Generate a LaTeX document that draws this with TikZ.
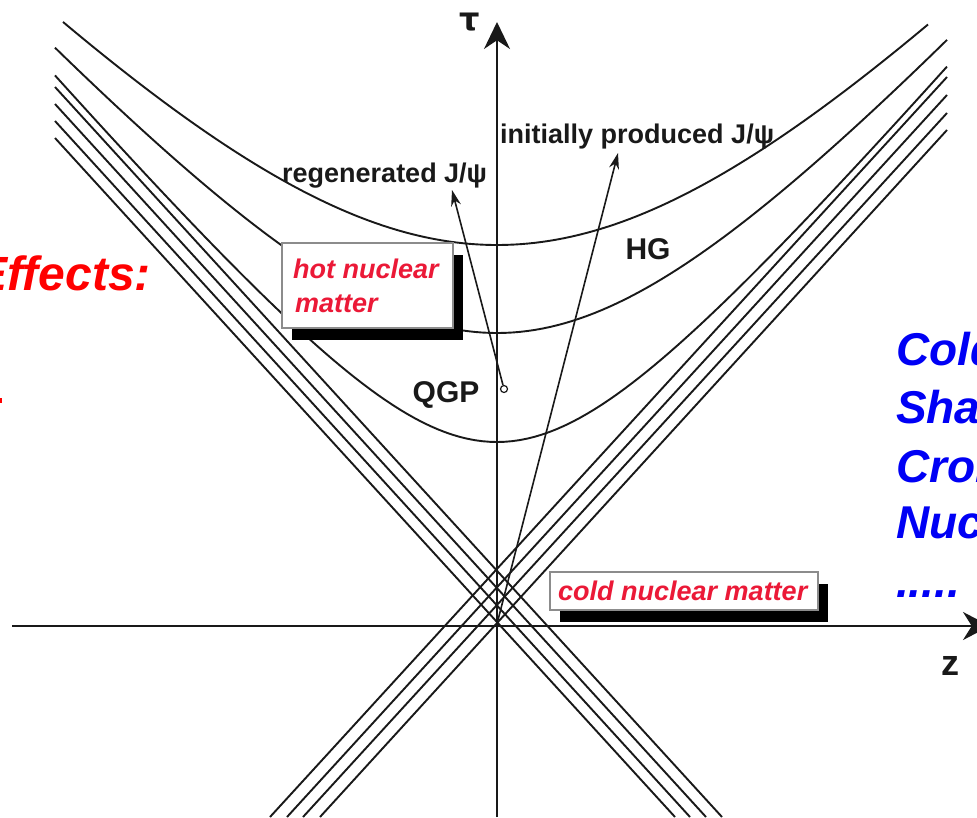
\documentclass[tikz,border=0pt]{standalone}
\usepackage{fontspec}
\setmainfont{Liberation Sans}
\newfontfamily\dejavu{DejaVu Sans}
\usetikzlibrary{arrows.meta,shadows}
\definecolor{effred}{RGB}{255,0,0}
\definecolor{boxred}{RGB}{235,25,55}
\definecolor{effblue}{RGB}{0,0,245}
\definecolor{ink}{RGB}{25,25,25}
\begin{document}
\begin{tikzpicture}[x=1pt,y=-1pt,
  wl/.style={draw=ink,line width=1.9pt},
  axisline/.style={draw=ink,line width=2pt},
  jarrow/.style={draw=ink,line width=1.6pt,-{Stealth[length=16pt,width=10pt]}},
  nbox/.style={draw=black!45,line width=1.2pt,fill=white,inner sep=0pt,
     drop shadow={shadow xshift=10pt,shadow yshift=-12pt,opacity=1,fill=black}},
  boxtext/.style={text=boxred,font=\fontsize{27}{30}\selectfont\bfseries\itshape,inner sep=0pt},
  lab/.style={text=ink,font=\fontsize{27}{30}\selectfont\bfseries,inner sep=0pt},
  biglab/.style={text=ink,font=\fontsize{30}{34}\selectfont\bfseries,inner sep=0pt},
  redtext/.style={text=effred,font=\fontsize{48}{52}\selectfont\bfseries\itshape,inner sep=0pt},
  bluetext/.style={text=effblue,font=\fontsize{46}{50}\selectfont\bfseries\itshape,inner sep=0pt}
]
\useasboundingbox (0,0) rectangle (977,817);
\fill[white] (0,0) rectangle (977,817);

% hyperbolas (proper-time curves), centred on tau axis x=497, origin y=626
\draw[wl] plot[domain=-434:431,samples=120] ({497+\x},{626-100*sqrt(3.81*3.81+(1.08*\x/100)*(1.08*\x/100))});
\draw[wl] plot[domain=-442:450,samples=120] ({497+\x},{626-100*sqrt(2.93*2.93+(1.128*\x/100)*(1.128*\x/100))});
\draw[wl] plot[domain=-442:450,samples=120] ({497+\x},{626-100*sqrt(1.84*1.84+(1.174*\x/100)*(1.174*\x/100))});

% light-cone lines
\coordinate (l1a) at (55,87);  \coordinate (l1b) at (722,817);
\coordinate (l2a) at (55,104); \coordinate (l2b) at (706,817);
\coordinate (l3a) at (55,121); \coordinate (l3b) at (690,817);
\coordinate (l4a) at (55,138); \coordinate (l4b) at (675,817);
\coordinate (r1a) at (947,77);  \coordinate (r1b) at (270,817);
\coordinate (r2a) at (947,95);  \coordinate (r2b) at (287,817);
\coordinate (r3a) at (947,113); \coordinate (r3b) at (303,817);
\coordinate (r4a) at (947,130); \coordinate (r4b) at (320,817);
\foreach \n in {l1,l2,l3,l4,r1,r2,r3,r4} \draw[wl] (\n a) -- (\n b);

% axes
\coordinate (tbot) at (497,817);
\coordinate (ttop) at (497,22);
\coordinate (zleft) at (12,626);
\coordinate (zright) at (990,626);
\draw[axisline,-{Stealth[length=27pt,width=26pt]}] (tbot) -- (ttop);
\draw[axisline,-{Stealth[length=27pt,width=28pt]}] (zleft) -- (zright);
\node[font=\dejavu\bfseries\fontsize{32}{34}\selectfont,text=ink,inner sep=0pt] (tau) at (470,22) {τ};
\node[font=\fontsize{36}{40}\selectfont\bfseries,text=ink,inner sep=0pt] (zlab) at (950,666) {z};

% J/psi trajectories
\node[draw=ink,line width=1.2pt,circle,minimum size=7pt,inner sep=0pt,fill=white] (circ) at (504,389) {};
\coordinate (regtip) at (452,190);
\draw[jarrow] (circ) -- (regtip);
\coordinate (ip0) at (498,620);
\coordinate (iptip) at (618,153);
\draw[jarrow] (ip0) -- (iptip);

% boxes
\node[nbox,minimum width=171pt,minimum height=85pt] (hotbox) at (367.5,285.5) {};
\node[boxtext,anchor=base west] (hot1) at (293,278) {hot nuclear};
\node[boxtext,anchor=base west] (hot2) at (295,312) {matter};
\node[nbox,minimum width=268pt,minimum height=38pt] (coldbox) at (684,591) {};
\node[boxtext,anchor=base west] (cold) at (558,600) {cold nuclear matter};

% labels
\node[lab,anchor=base west] (reg) at (282,182) {regenerated J/ψ};
\node[lab,anchor=base west] (ini) at (500,143) {initially produced J/ψ};
\node[biglab] (hg) at (648,249) {HG};
\node[biglab] (qgp) at (446,395) {QGP};

% side texts (cropped by the page, as in the reference)
\node[redtext,anchor=base east] (eff) at (151,290) {Effects:};
\fill[effred] (0,398) rectangle (2,403);
\node[bluetext,anchor=base west] (b1) at (896,365) {Cold};
\node[bluetext,anchor=base west] (b2) at (896,423) {Shadowing};
\node[bluetext,anchor=base west] (b3) at (896,482) {Cronin};
\node[bluetext,anchor=base west] (b4) at (896,538) {Nuclear};
\node[bluetext,anchor=base west] (b5) at (896,597) {.....};
\end{tikzpicture}
\end{document}
